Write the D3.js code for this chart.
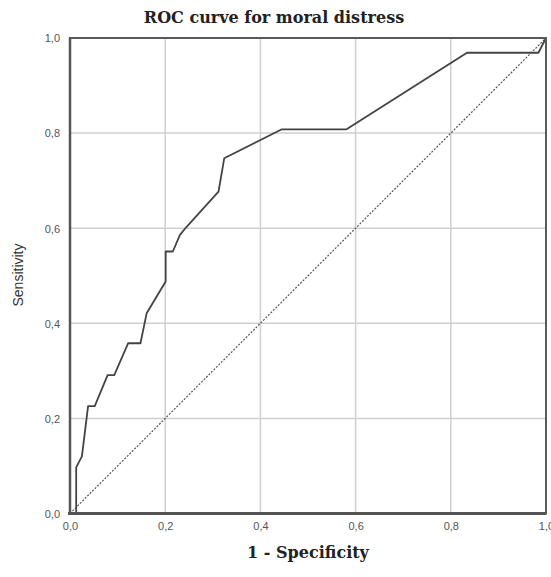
<!DOCTYPE html>
<html>
<head>
<meta charset="utf-8">
<script src="https://cdn.jsdelivr.net/npm/d3@7/dist/d3.min.js"></script>
<style>
  body { margin: 0; background: #fff; }
  svg { display: block; }
</style>
</head>
<body>
<div id="root"></div>
<script>
// ROC curve points
var fpr = [0, 0.013, 0.013, 0.025, 0.038, 0.052, 0.079, 0.093, 0.122, 0.148, 0.161, 0.201, 0.201, 0.216, 0.231, 0.245, 0.312, 0.324, 0.445, 0.581, 0.834, 0.984, 1]
var tpr = [0, 0, 0.097, 0.12, 0.226, 0.226, 0.291, 0.291, 0.358, 0.358, 0.421, 0.488, 0.551, 0.551, 0.586, 0.603, 0.677, 0.747, 0.808, 0.808, 0.969, 0.969, 1]
var ticks = [0, 0.2, 0.4, 0.6, 0.8, 1]
var title = 'ROC curve for moral distress'
var xTitle = '1 - Specificity'
var yTitle = 'Sensitivity'

window.onload = function () {
    var width = 551, height = 577
    var left = 70, top = 38, size = 476

    var svg = d3.select('#root').append('svg')
        .attr('width', width)
        .attr('height', height)

    var x = d3.scaleLinear().domain([0, 1]).range([left, left + size])
    var y = d3.scaleLinear().domain([0, 1]).range([top + size - 0.5, top])
    var fmt = function (d) { return d3.format('.1f')(d).replace('.', ',') }

    // grid
    var grid = svg.append('g')
    grid.selectAll('.vx')
        .data(ticks.slice(1, -1))
        .enter().append('line')
        .attr('x1', x).attr('x2', x)
        .attr('y1', y(0)).attr('y2', y(1))
        .attr('stroke', '#cfcfcf').attr('stroke-width', 1.5)
    grid.selectAll('.hy')
        .data(ticks.slice(1, -1))
        .enter().append('line')
        .attr('y1', y).attr('y2', y)
        .attr('x1', x(0)).attr('x2', x(1))
        .attr('stroke', '#cfcfcf').attr('stroke-width', 1.5)

    // reference diagonal
    svg.append('line')
        .attr('x1', x(0)).attr('y1', y(0))
        .attr('x2', x(1)).attr('y2', y(1))
        .attr('stroke', '#555')
        .attr('stroke-width', 1.2)
        .attr('stroke-dasharray', '2,1.5')

    // roc curve
    var line = d3.line()
        .x(function (d) { return x(d[0]) })
        .y(function (d) { return y(d[1]) })
    svg.append('path')
        .datum(d3.zip(fpr, tpr))
        .attr('fill', 'none')
        .attr('stroke', '#444')
        .attr('stroke-width', 1.8)
        .attr('stroke-linejoin', 'round')
        .attr('d', line)

    // frame
    svg.append('rect')
        .attr('x', x(0)).attr('y', y(1))
        .attr('width', x(1) - x(0)).attr('height', y(0) - y(1))
        .attr('fill', 'none')
        .attr('stroke', '#5a5a5a')
        .attr('stroke-width', 2)
    svg.append('line')
        .attr('x1', x(0) - 2).attr('x2', x(1))
        .attr('y1', y(0)).attr('y2', y(0))
        .attr('stroke', '#555').attr('stroke-width', 3)
    svg.append('line')
        .attr('x1', x(0)).attr('x2', x(0))
        .attr('y1', y(1)).attr('y2', y(0))
        .attr('stroke', '#555').attr('stroke-width', 2.5)

    // axes (labels only)
    var xAxis = svg.append('g')
        .attr('transform', 'translate(0,' + (y(0) + 6) + ')')
        .call(d3.axisBottom(x).tickValues(ticks).tickFormat(fmt).tickSize(0))
    var yAxis = svg.append('g')
        .attr('transform', 'translate(' + (x(0) - 7) + ',0)')
        .call(d3.axisLeft(y).tickValues(ticks).tickFormat(fmt).tickSize(0))
    svg.selectAll('.domain').remove()
    svg.selectAll('.tick text')
        .attr('font-family', 'Liberation Sans, Arial, sans-serif')
        .attr('font-size', 11)
        .attr('fill', '#555')
    yAxis.selectAll('.tick text').attr('dy', '0.35em')

    // titles
    svg.append('text')
        .attr('x', 274).attr('y', 23)
        .attr('text-anchor', 'middle')
        .attr('font-family', 'DejaVu Serif, serif')
        .attr('font-weight', 'bold')
        .attr('font-size', 16)
        .attr('fill', '#222')
        .text(title)
    svg.append('text')
        .attr('x', x(0.5)).attr('y', 558)
        .attr('text-anchor', 'middle')
        .attr('font-family', 'DejaVu Serif, serif')
        .attr('font-weight', 'bold')
        .attr('font-size', 16)
        .attr('fill', '#222')
        .text(xTitle)
    svg.append('text')
        .attr('transform', 'translate(23,275) rotate(-90)')
        .attr('text-anchor', 'middle')
        .attr('font-family', 'Liberation Sans, Arial, sans-serif')
        .attr('font-size', 14)
        .attr('fill', '#333')
        .text(yTitle)
}
</script>
</body>
</html>
